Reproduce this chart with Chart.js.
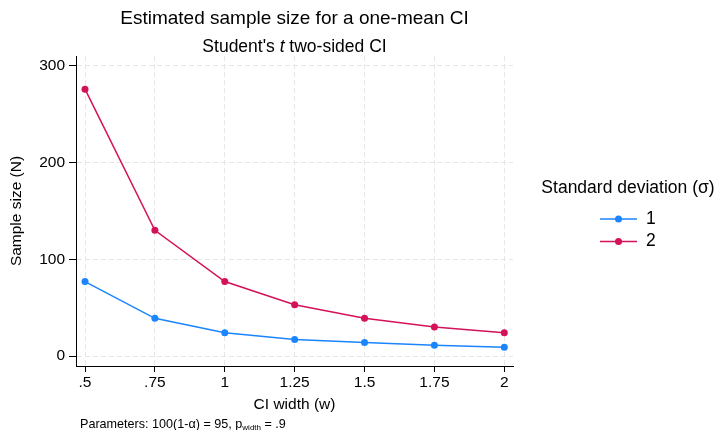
<!DOCTYPE html>
<html>
<head>
<meta charset="utf-8">
<script src="https://cdn.jsdelivr.net/npm/chart.js@4.4.0/dist/chart.umd.min.js"></script>
<style>
  html, body { margin: 0; padding: 0; background: #ffffff; }
  #wrap { width: 717px; height: 430px; position: relative; }
</style>
</head>
<body>
<div id="wrap"><canvas id="c" width="717" height="430"></canvas></div>
<script>
// ---- Data ----
const ciWidths = [0.5, 0.75, 1, 1.25, 1.5, 1.75, 2];
const xTickLabels = ['.5', '.75', '1', '1.25', '1.5', '1.75', '2'];
const yTickValues = [0, 100, 200, 300];
const sampleSizeSd1 = [77, 39, 24, 17, 14, 11, 9];
const sampleSizeSd2 = [276, 130, 77, 53, 39, 30, 24];
const seriesLabels = ['1', '2'];
const titleText = 'Estimated sample size for a one-mean CI';
const legendTitle = 'Standard deviation (\u03c3)';
const yTitle = 'Sample size (N)';
const xTitle = 'CI width (w)';

const FONT = '"Liberation Sans", Arial, Helvetica, sans-serif';
const BLUE = '#1a85ff';
const RED = '#d41159';

function toPoints(vals) { return ciWidths.map((x, i) => ({ x: x, y: vals[i] })); }

const decorPlugin = {
  id: 'decor',
  afterDraw(chart) {
    const ctx = chart.ctx;
    const ca = chart.chartArea;
    const cx = (ca.left + ca.right) / 2;
    ctx.save();
    ctx.fillStyle = '#000';
    // Title
    ctx.font = '19px ' + FONT;
    ctx.textAlign = 'center';
    ctx.textBaseline = 'alphabetic';
    ctx.fillText(titleText, cx, 24);
    // Subtitle with italic t
    const parts = [
      { t: "Student's ", f: '17.5px ' + FONT },
      { t: 't', f: 'italic 17.5px ' + FONT },
      { t: ' two-sided CI', f: '17.5px ' + FONT }
    ];
    let total = 0;
    parts.forEach(p => { ctx.font = p.f; p.w = ctx.measureText(p.t).width; total += p.w; });
    let x = cx - total / 2;
    ctx.textAlign = 'left';
    parts.forEach(p => { ctx.font = p.f; ctx.fillText(p.t, x, 52); x += p.w; });

    // Axis titles
    ctx.font = '15.5px ' + FONT;
    ctx.textAlign = 'center';
    ctx.textBaseline = 'middle';
    ctx.fillText(xTitle, cx, 405);
    ctx.save();
    ctx.translate(17, (ca.top + ca.bottom) / 2);
    ctx.rotate(-Math.PI / 2);
    ctx.fillText(yTitle, 0, 0);
    ctx.restore();

    // Footnote
    const fn = [
      { t: 'Parameters: 100(1-\u03b1) = 95, p', f: '12.6px ' + FONT, dy: 0 },
      { t: 'width', f: '8px ' + FONT, dy: 2 },
      { t: ' = .9', f: '12.6px ' + FONT, dy: 0 }
    ];
    ctx.textAlign = 'left';
    ctx.textBaseline = 'alphabetic';
    let fx = 80;
    fn.forEach(p => { ctx.font = p.f; ctx.fillText(p.t, fx, 428 + p.dy); fx += ctx.measureText(p.t).width; });

    // Legend
    ctx.font = '17.5px ' + FONT;
    ctx.textAlign = 'center';
    ctx.textBaseline = 'middle';
    ctx.fillText(legendTitle, 628, 188);
    const ys = [219, 241.5];
    chart.data.datasets.forEach((ds, i) => {
      const y = ys[i];
      ctx.strokeStyle = ds.borderColor;
      ctx.lineWidth = 1.5;
      ctx.beginPath();
      ctx.moveTo(600, y);
      ctx.lineTo(637, y);
      ctx.stroke();
      ctx.fillStyle = ds.backgroundColor;
      ctx.beginPath();
      ctx.arc(618.5, y, 3.5, 0, Math.PI * 2);
      ctx.fill();
      ctx.fillStyle = '#000';
      ctx.textAlign = 'left';
      ctx.fillText(ds.label, 646, y);
    });
    ctx.restore();
  }
};

new Chart(document.getElementById('c'), {
  type: 'line',
  data: {
    datasets: [
      { label: seriesLabels[0], data: toPoints(sampleSizeSd1), borderColor: BLUE, backgroundColor: BLUE,
        borderWidth: 1.5, pointRadius: 3.5, pointBorderWidth: 0, pointHoverRadius: 3.5, tension: 0 },
      { label: seriesLabels[1], data: toPoints(sampleSizeSd2), borderColor: RED, backgroundColor: RED,
        borderWidth: 1.5, pointRadius: 3.5, pointBorderWidth: 0, pointHoverRadius: 3.5, tension: 0 }
    ]
  },
  options: {
    responsive: false,
    animation: false,
    events: [],
    layout: { padding: { top: 56, right: 204, left: 0, bottom: 0 } },
    plugins: { legend: { display: false }, title: { display: false }, tooltip: { enabled: false } },
    scales: {
      x: {
        type: 'linear',
        min: 0.4678,
        max: 2.0311,
        afterBuildTicks: (scale) => { scale.ticks = ciWidths.map(v => ({ value: v })); },
        afterFit: (scale) => { scale.height = 64; },
        ticks: {
          color: '#000',
          font: { family: FONT, size: 15.5 },
          padding: 1,
          maxRotation: 0,
          autoSkip: false,
          callback: (v) => { const i = ciWidths.indexOf(v); return i >= 0 ? xTickLabels[i] : ''; }
        },
        grid: { color: '#e6e6e6', lineWidth: 1, drawTicks: true, tickLength: 6, tickColor: '#000', tickWidth: 1 },
        border: { display: true, color: '#000', width: 1, dash: [5, 3] }
      },
      y: {
        type: 'linear',
        min: -10.34,
        max: 310.34,
        afterBuildTicks: (scale) => { scale.ticks = yTickValues.map(v => ({ value: v })); },
        afterFit: (scale) => { scale.width = 76; },
        ticks: {
          color: '#000',
          font: { family: FONT, size: 15.5 },
          padding: 4,
          autoSkip: false,
          callback: (v) => String(v)
        },
        grid: { color: '#e6e6e6', lineWidth: 1, drawTicks: true, tickLength: 7, tickColor: '#000', tickWidth: 1 },
        border: { display: true, color: '#000', width: 1, dash: [5, 3] }
      }
    }
  },
  plugins: [decorPlugin]
});
</script>
</body>
</html>
